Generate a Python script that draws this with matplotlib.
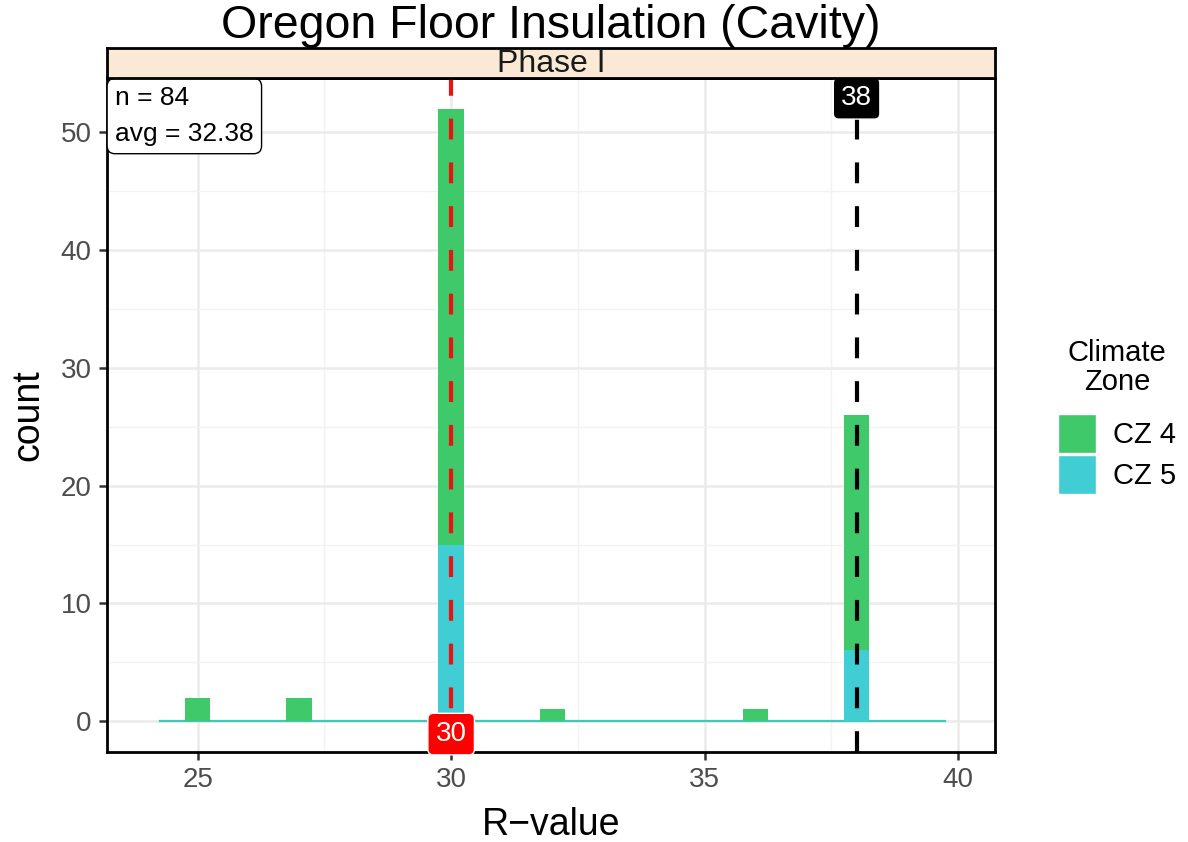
import numpy as np
import matplotlib
matplotlib.use("Agg")
import matplotlib.pyplot as plt
from matplotlib.patches import Patch

plt.rcParams['font.family'] = ['Liberation Sans', 'DejaVu Sans']

# data
r_values = [25, 27, 30, 32, 36, 38]
cz4_counts = [2, 2, 37, 1, 1, 20]
cz5_counts = [0, 0, 15, 0, 0, 6]
zones = ['CZ 4', 'CZ 5']
zone_colors = {'CZ 4': '#40C96A', 'CZ 5': '#40CDD3'}
median_line = 30
upper_line = 38

# histogram bins, width 0.5
bin_edges = np.arange(24.25, 39.76, 0.5)
centers = (bin_edges[:-1] + bin_edges[1:]) / 2
h4, _ = np.histogram(r_values, bins=bin_edges, weights=cz4_counts)
h5, _ = np.histogram(r_values, bins=bin_edges, weights=cz5_counts)

n_total = sum(cz4_counts) + sum(cz5_counts)
avg = sum(r * (a + b) for r, a, b in zip(r_values, cz4_counts, cz5_counts)) / n_total

fig = plt.figure(figsize=(11.88, 8.42), dpi=100)
ax = fig.add_axes([0.0901, 0.1072, 0.7474, 0.7998])

ax.set_axisbelow(True)
ax.set_xticks([22.5, 27.5, 32.5, 37.5], minor=True)
ax.set_yticks([5, 15, 25, 35, 45], minor=True)
ax.grid(True, which='major', color='#EBEBEB', lw=1.8)
ax.grid(True, which='minor', color='#F2F2F2', lw=1.0)

# zero-count bins show as a flat line
ax.plot([bin_edges[0], bin_edges[-1]], [0, 0], color='#40C8BE', lw=1.6, zorder=2)
ax.bar(centers, h5, width=0.5, color=zone_colors['CZ 5'], zorder=3)
ax.bar(centers, h4, width=0.5, bottom=h5, color=zone_colors['CZ 4'], zorder=3)

ax.axvline(median_line, color='#EE1111', lw=3.0, ls=(0, (5, 5.5)), zorder=4)
ax.axvline(upper_line, color='black', lw=3.0, ls=(0, (5, 5.5)), zorder=4)

ax.text(median_line, -1.1, '30', color='white', fontsize=20, ha='center', va='center', zorder=6,
        bbox=dict(boxstyle='round,pad=0.28,rounding_size=0.2', fc='#FF0000', ec='white', lw=1))
ax.text(upper_line, 52.9, '38', color='white', fontsize=20, ha='center', va='center', zorder=6,
        bbox=dict(boxstyle='round,pad=0.28,rounding_size=0.2', fc='black', ec='white', lw=1))

ax.text(0.009, 0.988, 'n = %d\navg = %.2f' % (n_total, avg), transform=ax.transAxes,
        fontsize=19, ha='left', va='top', linespacing=1.6, zorder=7,
        bbox=dict(boxstyle='round,pad=0.3,rounding_size=0.3', fc='white', ec='black', lw=1))

ax.set_xlim(23.21, 40.73)
ax.set_ylim(-2.6, 54.6)
ax.set_xticks([25, 30, 35, 40])
ax.set_yticks([0, 10, 20, 30, 40, 50])
ax.tick_params(axis='both', which='major', labelsize=20, labelcolor='#4D4D4D',
               length=6, width=1.8, color='#333333', pad=5)
ax.tick_params(axis='both', which='minor', length=0)
for sp in ax.spines.values():
    sp.set_linewidth(2)
    sp.set_color('black')

ax.set_xlabel('R\u2212value', fontsize=27, labelpad=10)
ax.set_ylabel('count', fontsize=27, labelpad=10)

# facet strip
strip = fig.add_axes([0.0901, 0.907, 0.7474, 0.0356])
strip.set_xticks([])
strip.set_yticks([])
strip.set_facecolor('#FAE9D4')
for sp in strip.spines.values():
    sp.set_linewidth(2)
strip.text(0.5, 0.47, 'Phase I', fontsize=23, ha='center', va='center', color='#1A1A1A')

fig.text(0.4638, 0.969, 'Oregon Floor Insulation (Cavity)', fontsize=33.5, ha='center', va='center')

handles = [Patch(facecolor=zone_colors[z], edgecolor='white', label=z) for z in zones]
leg = fig.legend(handles=handles, title='Climate\nZone', loc='upper left',
                 bbox_to_anchor=(0.878, 0.615), frameon=False, fontsize=21, title_fontsize=21,
                 handlelength=1.3, handleheight=1.7, handletextpad=0.6, labelspacing=0.05,
                 borderpad=0)
leg.get_title().set_multialignment('center')
leg.get_title().set_linespacing(1.05)
leg._legend_box.sep = 13

fig.savefig('out.png', dpi=100)
